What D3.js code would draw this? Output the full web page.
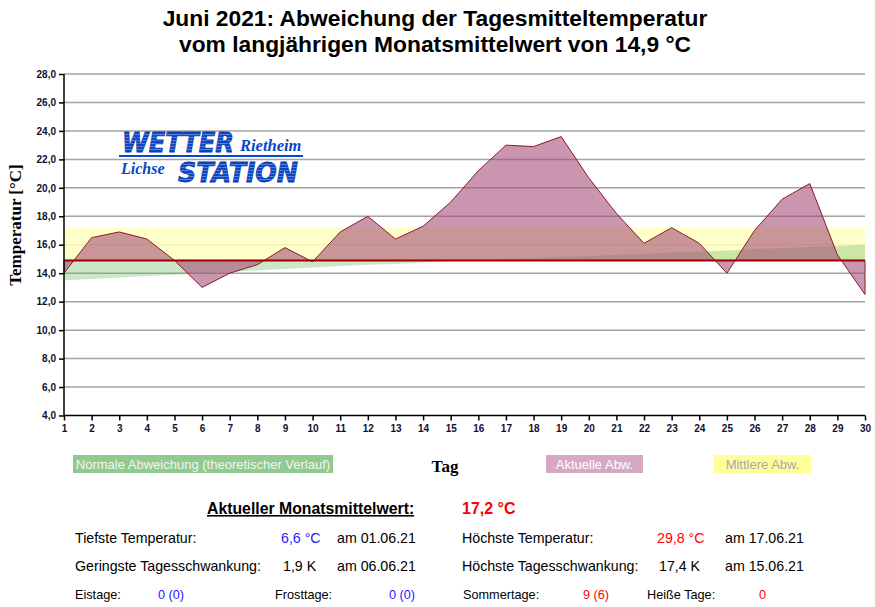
<!DOCTYPE html>
<html>
<head>
<meta charset="utf-8">
<script src="https://cdn.jsdelivr.net/npm/d3@7"></script>
<style>
  body { margin: 0; background: #fff; }
  svg { display: block; }
</style>
</head>
<body>
<svg width="875" height="607"></svg>
<script>
// Tagesmitteltemperaturen Juni 2021
var days = [1,2,3,4,5,6,7,8,9,10,11,12,13,14,15,16,17,18,19,20,21,22,23,24,25,26,27,28,29,30];
var actual = [14.0,16.5,16.9,16.4,14.9,13.0,14.0,14.6,15.8,14.8,16.9,18.0,16.4,17.3,19.0,21.2,23.0,22.9,23.6,20.7,18.2,16.1,17.2,16.1,14.0,17.0,19.2,20.3,15.3,12.5];
// theoretischer Verlauf (Normal)
var normal = [13.5,13.6,13.7,13.8,13.9,14.0,14.1,14.2,14.3,14.4,14.5,14.6,14.65,14.75,14.85,14.9,15.0,15.05,15.15,15.2,15.3,15.35,15.45,15.5,15.6,15.7,15.75,15.85,15.9,16.0];
var longTermMean = 14.9;
var monthMean = 17.2;
var yTicks = [4,6,8,10,12,14,16,18,20,22,24,26,28];

function main() {
  var svg = d3.select("svg");
  var x = d3.scaleLinear().domain([1, 30]).range([64, 865]);
  var y = d3.scaleLinear().domain([4, 28]).range([415.5, 74]);
  var fmt = function (v) { return d3.format(".1f")(v).replace(".", ","); };

  // Titel
  var title = svg.append("g").attr("font-family", "Liberation Sans, Arial, sans-serif")
    .attr("font-weight", "bold").attr("font-size", 22.8).attr("text-anchor", "middle").attr("fill", "#000");
  title.append("text").attr("x", 435).attr("y", 26).text("Juni 2021: Abweichung der Tagesmitteltemperatur");
  title.append("text").attr("x", 435).attr("y", 52).text("vom langjährigen Monatsmittelwert von 14,9 °C");

  // Gitter
  svg.append("g").selectAll("line").data(yTicks.slice(1)).enter().append("line")
    .attr("x1", x(1)).attr("x2", x(30))
    .attr("y1", function (d) { return y(d); }).attr("y2", function (d) { return y(d); })
    .attr("stroke", "#a4a4a4").attr("stroke-width", 1.5);

  // Mittlere Abw. (gelb)
  svg.append("rect").attr("x", x(1)).attr("width", x(30) - x(1))
    .attr("y", y(monthMean)).attr("height", y(longTermMean) - y(monthMean))
    .attr("fill", "#ffffc0").attr("fill-opacity", 0.85);

  // Normale Abweichung (gruen)
  var areaNormal = d3.area().x(function (d, i) { return x(days[i]); })
    .y0(y(longTermMean)).y1(function (d) { return y(d); });
  svg.append("path").datum(normal).attr("d", areaNormal)
    .attr("fill", "rgb(100,180,90)").attr("fill-opacity", 0.33);

  // Logo
  var defs = svg.append("defs");
  var pat = defs.append("pattern").attr("id", "stripes").attr("patternUnits", "userSpaceOnUse")
    .attr("width", 8).attr("height", 3);
  pat.append("rect").attr("width", 8).attr("height", 3).attr("fill", "#0a46c8");
  pat.append("rect").attr("y", 2).attr("width", 8).attr("height", 0.8).attr("fill", "#6f95e0");
  var logo = svg.append("g");
  logo.append("text").attr("x", 122).attr("y", 152)
    .attr("font-family", "DejaVu Sans, sans-serif").attr("font-weight", "bold").attr("font-style", "italic")
    .attr("font-size", 26).attr("textLength", 112).attr("lengthAdjust", "spacingAndGlyphs")
    .attr("fill", "url(#stripes)").attr("stroke", "#0a3ca8").attr("stroke-width", 0.8).text("WETTER");
  logo.append("text").attr("x", 240).attr("y", 151)
    .attr("font-family", "Liberation Serif, Times New Roman, serif").attr("font-weight", "bold").attr("font-style", "italic")
    .attr("font-size", 16.5).attr("fill", "#0a46c8").text("Rietheim");
  logo.append("line").attr("x1", 119).attr("x2", 303).attr("y1", 156).attr("y2", 156)
    .attr("stroke", "#0a46c8").attr("stroke-width", 2);
  logo.append("text").attr("x", 121).attr("y", 174)
    .attr("font-family", "Liberation Serif, Times New Roman, serif").attr("font-weight", "bold").attr("font-style", "italic")
    .attr("font-size", 16).attr("fill", "#0a46c8").text("Lichse");
  logo.append("text").attr("x", 178).attr("y", 182)
    .attr("font-family", "DejaVu Sans, sans-serif").attr("font-weight", "bold").attr("font-style", "italic")
    .attr("font-size", 26).attr("textLength", 120).attr("lengthAdjust", "spacingAndGlyphs")
    .attr("fill", "url(#stripes)").attr("stroke", "#0a3ca8").attr("stroke-width", 0.8).text("STATION");

  // Aktuelle Abweichung (rosa)
  var areaActual = d3.area().x(function (d, i) { return x(days[i]); })
    .y0(y(longTermMean)).y1(function (d) { return y(d); });
  svg.append("path").datum(actual).attr("d", areaActual)
    .attr("fill", "rgb(163,73,115)").attr("fill-opacity", 0.58)
    .attr("stroke", "#8b1a2a").attr("stroke-width", 1);

  // Basislinie 14,9
  svg.append("line").attr("x1", x(1)).attr("x2", x(30))
    .attr("y1", y(longTermMean)).attr("y2", y(longTermMean))
    .attr("stroke", "#a00000").attr("stroke-width", 2);

  // Achsen
  var yAxis = d3.axisLeft(y).tickValues(yTicks).tickFormat(fmt).tickSize(5).tickPadding(3);
  var gy = svg.append("g").attr("transform", "translate(" + x(1) + ",0)").call(yAxis);
  var xAxis = d3.axisBottom(x).tickValues(days).tickFormat(d3.format("d")).tickSize(5).tickPadding(4);
  var gx = svg.append("g").attr("transform", "translate(0," + y(4) + ")").call(xAxis);
  [gx, gy].forEach(function (g) {
    g.select(".domain").attr("stroke", "#000").attr("stroke-width", 1.5);
    g.selectAll(".tick line").attr("stroke", "#000").attr("stroke-width", 1.5);
    g.selectAll(".tick text").attr("font-family", "Liberation Sans, Arial, sans-serif")
      .attr("font-weight", "bold").attr("font-size", 10).attr("fill", "#101030");
  });
  gy.select(".domain").attr("d", "M0," + y(4) + "V" + y(28));
  gx.select(".domain").attr("d", "M" + x(1) + ",0H" + x(30));

  // Achsentitel
  svg.append("text").attr("transform", "translate(21,225) rotate(-90)").attr("text-anchor", "middle")
    .attr("font-family", "Liberation Serif, Times New Roman, serif").attr("font-weight", "bold")
    .attr("font-size", 17).attr("fill", "#000").text("Temperatur [°C]");
  svg.append("text").attr("x", 445).attr("y", 472).attr("text-anchor", "middle")
    .attr("font-family", "Liberation Serif, Times New Roman, serif").attr("font-weight", "bold")
    .attr("font-size", 17).attr("fill", "#000").text("Tag");

  // Legende
  var legend = [
    { label: "Normale Abweichung (theoretischer Verlauf)", x: 73, w: 260, fill: "#8fca8f", text: "#f4f4f4" },
    { label: "Aktuelle Abw.", x: 546, w: 97, fill: "#d6a8c4", text: "#ffffff" },
    { label: "Mittlere Abw.", x: 714, w: 97, fill: "#ffff99", text: "#a8a8a8" }
  ];
  var lg = svg.append("g").selectAll("g").data(legend).enter().append("g");
  lg.append("rect").attr("x", function (d) { return d.x; }).attr("y", 455)
    .attr("width", function (d) { return d.w; }).attr("height", 18)
    .attr("fill", function (d) { return d.fill; });
  lg.append("text").attr("x", function (d) { return d.x + d.w / 2; }).attr("y", 469)
    .attr("text-anchor", "middle").attr("font-family", "Liberation Sans, Arial, sans-serif")
    .attr("font-size", 13).attr("fill", function (d) { return d.text; })
    .text(function (d) { return d.label; });

  // Statistik
  var st = svg.append("g").attr("font-family", "Liberation Sans, Arial, sans-serif").attr("fill", "#000");
  st.append("text").attr("x", 207).attr("y", 514).attr("font-size", 15.8).attr("font-weight", "bold")
    .attr("text-decoration", "underline").text("Aktueller Monatsmittelwert:");
  st.append("text").attr("x", 462).attr("y", 514).attr("font-size", 16).attr("font-weight", "bold")
    .attr("fill", "#ff0000").text(fmt(monthMean) + " °C");

  var rows = [
    { t: "Tiefste Temperatur:", x: 75, y: 543, s: 14.2 },
    { t: "6,6 °C", x: 281, y: 543, s: 14.2, c: "#2020ff" },
    { t: "am 01.06.21", x: 337, y: 543, s: 14.2 },
    { t: "Höchste Temperatur:", x: 462, y: 543, s: 14.2 },
    { t: "29,8 °C", x: 657, y: 543, s: 14.2, c: "#ff0000" },
    { t: "am 17.06.21", x: 725, y: 543, s: 14.2 },
    { t: "Geringste Tagesschwankung:", x: 75, y: 571, s: 14.2 },
    { t: "1,9 K", x: 283, y: 571, s: 14.2 },
    { t: "am 06.06.21", x: 337, y: 571, s: 14.2 },
    { t: "Höchste Tagesschwankung:", x: 462, y: 571, s: 14.2 },
    { t: "17,4 K", x: 659, y: 571, s: 14.2 },
    { t: "am 15.06.21", x: 725, y: 571, s: 14.2 },
    { t: "Eistage:", x: 75, y: 599, s: 12.7 },
    { t: "0 (0)", x: 158, y: 599, s: 12.7, c: "#2020ff" },
    { t: "Frosttage:", x: 275, y: 599, s: 12.7 },
    { t: "0 (0)", x: 389, y: 599, s: 12.7, c: "#2020ff" },
    { t: "Sommertage:", x: 463, y: 599, s: 12.7 },
    { t: "9 (6)", x: 583, y: 599, s: 12.7, c: "#ff0000" },
    { t: "Heiße Tage:", x: 647, y: 599, s: 12.7 },
    { t: "0", x: 759, y: 599, s: 12.7, c: "#ff0000" }
  ];
  st.selectAll("text.row").data(rows).enter().append("text").attr("class", "row")
    .attr("x", function (d) { return d.x; }).attr("y", function (d) { return d.y; })
    .attr("font-size", function (d) { return d.s; })
    .attr("fill", function (d) { return d.c || "#000"; })
    .text(function (d) { return d.t; });
}
main();
</script>
</body>
</html>
